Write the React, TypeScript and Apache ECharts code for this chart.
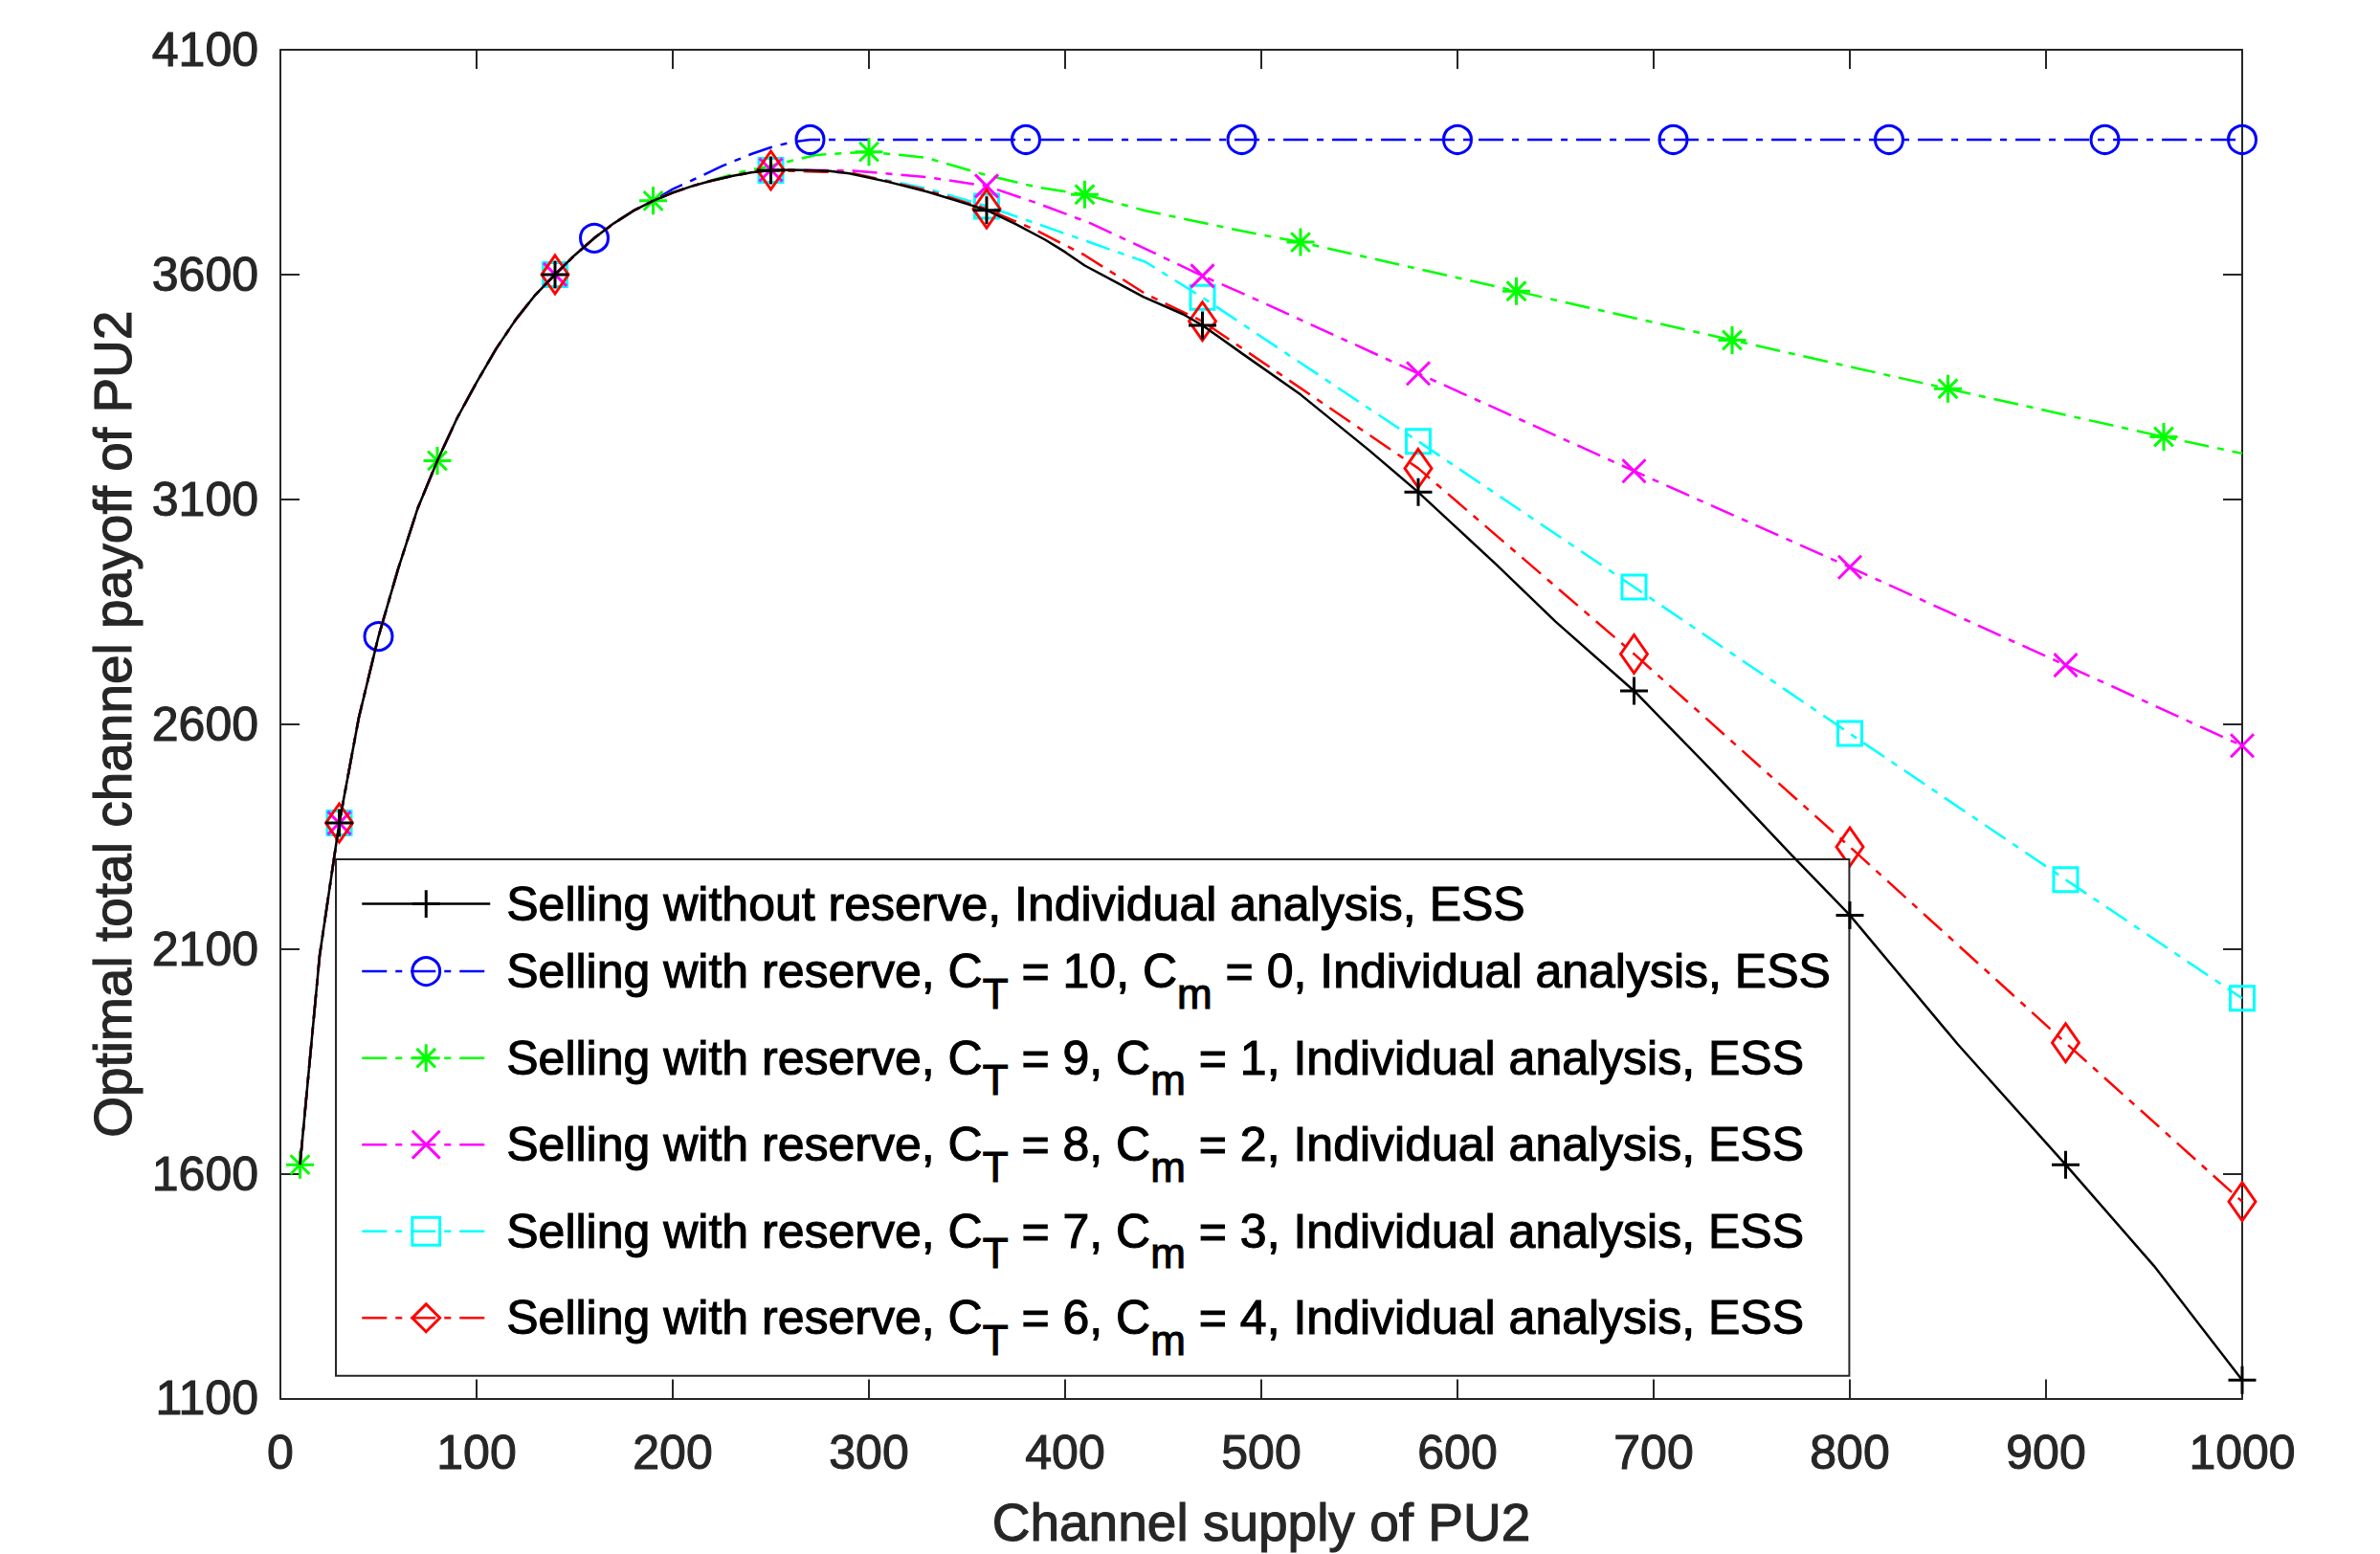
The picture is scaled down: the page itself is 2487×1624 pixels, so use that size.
import React, { useEffect, useRef } from 'react';
import * as echarts from 'echarts';

// Shared rising part (all curves coincide for x <= 190)
const risingX = [10, 20, 30, 40, 50, 60, 70, 80, 90, 100, 110, 120, 130, 140, 150, 160, 170, 180, 190];
const risingY = [1620, 2085, 2380, 2615, 2795, 2945, 3080, 3186, 3280, 3360, 3435, 3500, 3555, 3600, 3643, 3681, 3714, 3742, 3764];

// Selling without reserve
const blackTailX = [200, 210, 220, 230, 240, 250, 260, 270, 280, 290, 310, 330, 350, 360, 375, 390, 400, 410, 425, 440, 460, 470, 490, 520, 555, 580, 620, 650, 690, 730, 770, 800, 855, 910, 955, 1000];
const blackTailY = [3782, 3797, 3809, 3819, 3827, 3832, 3833, 3832, 3830, 3825, 3806, 3784, 3757, 3743, 3712, 3677, 3650, 3620, 3585, 3550, 3512, 3487, 3425, 3333, 3209, 3116, 2954, 2828, 2674, 2495, 2310, 2175, 1888, 1620, 1395, 1141];

// C_T = 10, C_m = 0
const blueTailX = [200, 210, 225, 240, 250, 260, 270, 380, 490, 600, 710, 820, 930, 1000];
const blueTailY = [3790, 3810, 3841, 3868, 3883, 3894, 3900, 3900, 3900, 3900, 3900, 3900, 3900, 3900];

// C_T = 9, C_m = 1
const greenTailX = [200, 220, 235, 250, 273, 300, 329, 360, 385, 410, 441, 491, 520, 630, 740, 850, 960, 1000];
const greenTailY = [3783, 3810, 3828, 3842, 3866, 3873, 3860, 3821, 3795, 3778, 3742, 3696, 3672, 3563, 3454, 3346, 3239, 3202];

// C_T = 8, C_m = 2
const magentaTailX = [200, 210, 220, 230, 240, 250, 292, 329, 360, 385, 413, 441, 470, 491, 580, 690, 800, 910, 1000];
const magentaTailY = [3782, 3797, 3809, 3819, 3827, 3833, 3831, 3817, 3797, 3760, 3714, 3657, 3597, 3557, 3380, 3163, 2949, 2731, 2552];

// C_T = 7, C_m = 3
const cyanTailX = [200, 210, 220, 230, 240, 250, 290, 329, 360, 385, 413, 441, 470, 580, 690, 800, 910, 1000];
const cyanTailY = [3782, 3797, 3809, 3819, 3827, 3832, 3827, 3792, 3752, 3714, 3671, 3628, 3549, 3229, 2905, 2579, 2254, 1990];

// C_T = 6, C_m = 4
const redTailX = [200, 210, 220, 230, 240, 250, 290, 329, 360, 385, 410, 441, 470, 580, 690, 800, 910, 1000];
const redTailY = [3782, 3797, 3809, 3819, 3827, 3832, 3827, 3788, 3746, 3699, 3643, 3557, 3496, 3169, 2756, 2327, 1891, 1538];

// x positions where markers are drawn
const marksA = [30, 140, 250, 360, 470, 580, 690, 800, 910, 1000];
const marksBlue = [50, 160, 270, 380, 490, 600, 710, 820, 930, 1000];
const marksGreen = [10, 80, 190, 300, 410, 520, 630, 740, 850, 960];

const seriesNames = [
  'Selling without reserve, Individual analysis, ESS',
  'Selling with reserve, C_T = 10, C_m = 0, Individual analysis, ESS',
  'Selling with reserve, C_T = 9, C_m = 1, Individual analysis, ESS',
  'Selling with reserve, C_T = 8, C_m = 2, Individual analysis, ESS',
  'Selling with reserve, C_T = 7, C_m = 3, Individual analysis, ESS',
  'Selling with reserve, C_T = 6, C_m = 4, Individual analysis, ESS',
];

const xTicks = { min: 0, max: 1000, interval: 100 };
const yTicks = { min: 1100, max: 4100, interval: 500 };

const FONT = '"Liberation Sans", Arial, Helvetica, sans-serif';
const AXIS_COLOR = '#262626';
const DASH_DOT = [26, 9, 7, 9];
const MARKER_STROKE = 3;
const TEXT_STROKE = 1.1;

const PLUS = 'path://M0,5L10,5M5,0L5,10';
const CROSS = 'path://M0,0L10,10M0,10L10,0';
const STAR = 'path://M5,0L5,10M0,5L10,5M1.6,1.6L8.4,8.4M1.6,8.4L8.4,1.6';

function buildData(xs: number[], ys: number[], marks: number[]) {
  const set = new Set(marks);
  return xs.map((x, i) => (set.has(x) ? [x, ys[i]] : { value: [x, ys[i]], symbol: 'none' }));
}

const defs = [
  { name: seriesNames[0], x: [...risingX, ...blackTailX], y: [...risingY, ...blackTailY], marks: marksA, color: '#000000', symbol: PLUS, size: 29, dash: 'solid' as any, width: 2.5, z: 4 },
  { name: seriesNames[1], x: [...risingX, ...blueTailX], y: [...risingY, ...blueTailY], marks: marksBlue, color: '#0000FF', symbol: 'circle', size: 29, dash: DASH_DOT, width: 2.5, z: 2 },
  { name: seriesNames[2], x: [...risingX, ...greenTailX], y: [...risingY, ...greenTailY], marks: marksGreen, color: '#00FF00', symbol: STAR, size: 29, dash: DASH_DOT, width: 2.5, z: 2 },
  { name: seriesNames[3], x: [...risingX, ...magentaTailX], y: [...risingY, ...magentaTailY], marks: marksA, color: '#FF00FF', symbol: CROSS, size: 24, dash: DASH_DOT, width: 2.5, z: 2.2 },
  { name: seriesNames[4], x: [...risingX, ...cyanTailX], y: [...risingY, ...cyanTailY], marks: marksA, color: '#00FFFF', symbol: 'rect', size: 25, dash: DASH_DOT, width: 2.5, z: 2.1 },
  { name: seriesNames[5], x: [...risingX, ...redTailX], y: [...risingY, ...redTailY], marks: marksA, color: '#FF0000', symbol: 'diamond', size: [28, 40], dash: DASH_DOT, width: 2.5, z: 3 },
];

function axisCommon(showLabels: boolean) {
  return {
    axisLine: { show: true, onZero: false, lineStyle: { color: AXIS_COLOR, width: 2 } },
    axisTick: { show: true, inside: true, length: 20, lineStyle: { color: AXIS_COLOR, width: 2 } },
    splitLine: { show: false },
    axisLabel: {
      show: showLabels,
      fontSize: 50,
      fontFamily: FONT,
      color: AXIS_COLOR,
      textBorderColor: AXIS_COLOR,
      textBorderWidth: TEXT_STROKE,
      showMinLabel: true,
      showMaxLabel: true,
      formatter: (v: number) => String(v),
    },
  };
}

const nameStyle = { fontSize: 55, fontFamily: FONT, color: AXIS_COLOR, textBorderColor: AXIS_COLOR, textBorderWidth: TEXT_STROKE };

export default function App() {
  const ref = useRef<HTMLDivElement>(null);
  useEffect(() => {
    if (!ref.current) return;
    const chart = echarts.init(ref.current, undefined, { renderer: 'svg' });
    const xb = axisCommon(true);
    const yb = axisCommon(true);
    const option: any = {
      animation: false,
      backgroundColor: '#ffffff',
      grid: { left: 293, top: 52, right: 144, bottom: 162, containLabel: false, show: false },
      xAxis: [
        {
          type: 'value', position: 'bottom', ...xTicks, ...xb,
          axisLabel: { ...xb.axisLabel, margin: 32 },
          name: 'Channel supply of PU2', nameLocation: 'middle', nameGap: 102,
          nameTextStyle: nameStyle,
        },
        { type: 'value', position: 'top', ...xTicks, ...axisCommon(false) },
      ],
      yAxis: [
        {
          type: 'value', position: 'left', ...yTicks, ...yb,
          axisLabel: { ...yb.axisLabel, margin: 23 },
          name: 'Optimal total channel payoff of PU2', nameLocation: 'middle', nameGap: 148,
          nameTextStyle: nameStyle,
        },
        { type: 'value', position: 'right', ...yTicks, ...axisCommon(false) },
      ],
      legend: {
        orient: 'vertical',
        left: 351,
        top: 898,
        padding: [21, 19, 15, 26],
        itemGap: 0,
        itemWidth: 134,
        itemHeight: 36,
        backgroundColor: '#ffffff',
        borderColor: AXIS_COLOR,
        borderWidth: 2,
        borderRadius: 0,
        selectedMode: false,
        textStyle: {
          fontSize: 50,
          fontFamily: FONT,
          color: '#000000',
          textBorderColor: '#000000',
          textBorderWidth: TEXT_STROKE,
          lineHeight: 50,
          padding: [0, 0, 0, 12],
          rich: {
            s: {
              fontSize: 44, fontFamily: FONT, color: '#000000', textBorderColor: '#000000', textBorderWidth: TEXT_STROKE,
              lineHeight: 90, verticalAlign: 'bottom',
            },
          },
        },
        formatter: (name: string) => name.replace(/_(\w)/g, '{s|$1}'),
        data: defs.map((d) => ({
          name: d.name,
          itemStyle: { color: 'rgba(0,0,0,0)', borderColor: d.color, borderWidth: MARKER_STROKE },
          lineStyle: { color: d.color, width: d.width, type: d.dash },
        })),
      },
      series: defs.map((d) => ({
        name: d.name,
        type: 'line',
        xAxisIndex: 0,
        yAxisIndex: 0,
        data: buildData(d.x, d.y, d.marks),
        symbol: d.symbol,
        symbolSize: d.size,
        showSymbol: true,
        showAllSymbol: true,
        clip: false,
        z: d.z,
        silent: true,
        smooth: false,
        lineStyle: { color: d.color, width: d.width, type: d.dash },
        itemStyle: { color: 'rgba(0,0,0,0)', borderColor: d.color, borderWidth: MARKER_STROKE },
        emphasis: { disabled: true },
      })),
    };
    chart.setOption(option);
    return () => chart.dispose();
  }, []);
  return (
    <div
      ref={ref}
      style={{ position: 'fixed', left: 0, top: 0, width: '2487px', height: '1624px', background: '#fff' }}
    />
  );
}
